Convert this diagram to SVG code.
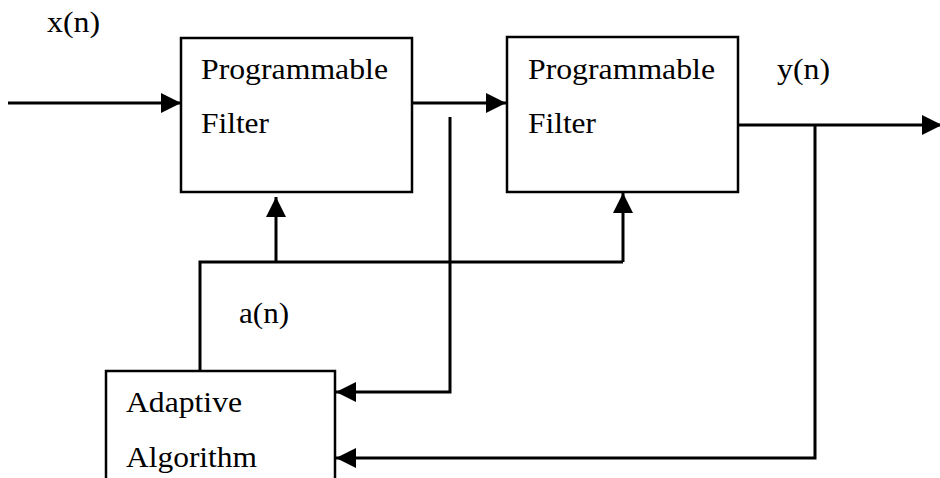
<svg xmlns="http://www.w3.org/2000/svg" width="940" height="478" viewBox="0 0 940 478">
<defs>
<style>
.box{fill:#fff;stroke:#000;stroke-width:2.5}
.ln{fill:none;stroke:#000;stroke-width:3}
.t{font-family:"Liberation Serif","Times New Roman",serif;font-size:30px;fill:#000}
</style>
<marker id="ah" viewBox="0 0 20 20" refX="20" refY="10" markerWidth="20" markerHeight="20" markerUnits="userSpaceOnUse" orient="auto">
<path d="M0,0 L20,10 L0,20 Z" fill="#000"/>
</marker>
</defs>
<rect width="940" height="478" fill="#fff"/>
<g id="connectors">
<path class="ln" d="M8,103 H181" marker-end="url(#ah)"/>
<path class="ln" d="M412,103 H506" marker-end="url(#ah)"/>
<path class="ln" d="M738,125 H942" marker-end="url(#ah)"/>
<path class="ln" d="M200,371 V262 H623"/>
<path class="ln" d="M276,262 V197" marker-end="url(#ah)"/>
<path class="ln" d="M623,262 V193" marker-end="url(#ah)"/>
<path class="ln" d="M450,117 V392 H336" marker-end="url(#ah)"/>
<path class="ln" d="M815,125 V458 H336" marker-end="url(#ah)"/>
</g>
<g id="filter1">
<rect class="box" x="181" y="38" width="231" height="154"/>
<text class="t" x="201" y="79" textLength="187" lengthAdjust="spacingAndGlyphs">Programmable</text>
<text class="t" x="201" y="133" textLength="68" lengthAdjust="spacingAndGlyphs">Filter</text>
</g>
<g id="filter2">
<rect class="box" x="507" y="37" width="231" height="155"/>
<text class="t" x="528" y="79" textLength="187" lengthAdjust="spacingAndGlyphs">Programmable</text>
<text class="t" x="528" y="133" textLength="68" lengthAdjust="spacingAndGlyphs">Filter</text>
</g>
<g id="adaptive">
<rect class="box" x="106" y="371" width="229" height="120"/>
<text class="t" x="126" y="412" textLength="116" lengthAdjust="spacingAndGlyphs">Adaptive</text>
<text class="t" x="126" y="467" textLength="131" lengthAdjust="spacingAndGlyphs">Algorithm</text>
</g>
<g id="labels">
<text class="t" x="47" y="32" textLength="53" lengthAdjust="spacingAndGlyphs">x(n)</text>
<text class="t" x="777" y="79" textLength="53" lengthAdjust="spacingAndGlyphs">y(n)</text>
<text class="t" x="239" y="323" textLength="50" lengthAdjust="spacingAndGlyphs">a(n)</text>
</g>
</svg>
